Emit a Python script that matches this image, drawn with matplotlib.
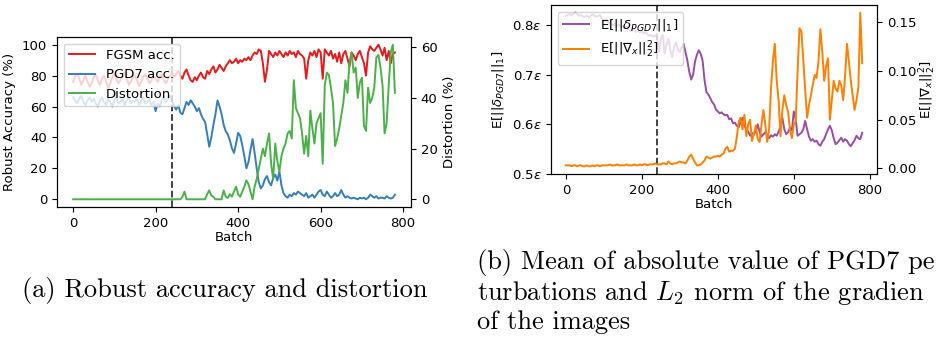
import numpy as np
import matplotlib
matplotlib.use('Agg')
import matplotlib.pyplot as plt
from matplotlib.ticker import FixedLocator, FuncFormatter

# batches sampled every 5 steps
batch = np.arange(0, 781, 5)

fgsm_acc = [
    76, 80, 81, 78, 74, 77, 80, 76, 73, 75,
    79, 81, 77, 74, 78, 80, 76, 72, 75, 79,
    81, 78, 75, 77, 80, 82, 78, 74, 76, 79,
    80, 77, 73, 76, 79, 81, 78, 75, 77, 80,
    78, 76, 79, 81, 77, 75, 78, 80, 82, 79,
    81, 83, 80, 78, 82, 84, 80, 77, 76, 79,
    77, 80, 82, 79, 78, 83, 81, 84, 86, 82,
    84, 87, 85, 83, 86, 88, 90, 88, 89, 91,
    88, 90, 89, 91, 90, 92, 90, 93, 95, 94,
    97, 96, 88, 76, 84, 96, 94, 92, 95, 93,
    96, 94, 92, 95, 93, 96, 94, 95, 92, 96,
    94, 93, 91, 78, 90, 95, 93, 96, 92, 97,
    95, 78, 97, 95, 93, 96, 91, 94, 89, 95,
    88, 94, 96, 91, 86, 95, 93, 90, 94, 96,
    92, 88, 80, 95, 99, 97, 96, 98, 100, 97,
    93, 98, 90, 96, 88, 94,
    95,
]

pgd7_acc = [
    66, 64, 62, 65, 67, 63, 61, 64, 66, 63,
    65, 62, 60, 64, 66, 63, 61, 65, 63, 60,
    64, 66, 62, 63, 65, 61, 64, 66, 62, 64,
    63, 65, 61, 64, 66, 62, 63, 65, 61, 63,
    57, 62, 60, 64, 66, 63, 65, 67, 64, 60,
    58, 61, 56, 55, 59, 63, 61, 64, 62, 60,
    57, 59, 55, 52, 50, 42, 34, 40, 48, 55,
    64, 60, 55, 48, 44, 42, 38, 33, 30, 36,
    43, 41, 35, 28, 20, 24, 32, 39, 30, 20,
    11, 7, 9, 13, 15, 11, 9, 14, 16, 12,
    18, 9, 4, 2, 1, 3, 2, 4, 3, 5,
    4, 3, 2, 4, 1, 2, 3, 1, 3, 5,
    6, 3, 2, 5, 3, 1, 2, 4, 2, 3,
    6, 3, 1, 2, 1, 0.5, 1, 0.5, 0, 1,
    0.5, 1, 0, 1, 3, 2, 1, 2, 0.5, 1,
    1, 0.5, 2, 1, 0.5, 1,
    3,
]

distortion = [0] * 50 + [
    0, 0, 0, 1, 3, 0, 0, 0, 0, 0,
    0, 0, 0, 0, 0, 2, 3.5, 1.5, 1, 0,
    0, 0, 0, 3.5, 1, 0.5, 2, 1, 3, 5,
    2, 1, 3, 5, 7.5, 6, 3, 0, 5, 8,
    12, 16, 20, 17, 22, 26, 14, 8, 22, 15,
    11, 17, 20, 22, 26, 27, 24, 47, 36, 34,
    32, 26, 18, 25, 17, 35, 28, 22, 30, 32,
    34, 14, 45, 50, 49, 44, 38, 21, 24, 28,
    33, 38, 47, 42, 54, 58, 50, 52, 40, 46,
    48, 29, 27, 44, 38, 40, 44, 56, 57, 52,
    45, 26, 30, 45, 58, 61,
    42,
]

delta_l1 = [
    .818, .820, .822, .819, .823, .825, .822, .818, .820, .817,
    .816, .819, .815, .818, .821, .819, .816, .818, .820, .812,
    .809, .812, .806, .803, .801, .799, .802, .798, .800, .796,
    .798, .794, .796, .791, .789, .788, .790, .786, .789, .785,
    .787, .783, .786, .781, .778, .780, .776, .779, .775, .746,
    .772, .780, .742, .760, .772, .750, .735, .755, .765, .750,
    .745, .755, .762, .745, .728, .705, .690, .700, .726, .740,
    .749, .742, .728, .690, .665, .660, .653, .645, .640, .630,
    .626, .622, .624, .620, .618, .619, .610, .612, .602, .603,
    .597, .594, .605, .613, .598, .590, .585, .577, .582, .580,
    .586, .600, .585, .575, .580, .584, .578, .572, .578, .575,
    .580, .577, .585, .596, .613, .590, .580, .584, .593, .588,
    .626, .610, .577, .580, .583, .590, .607, .590, .575, .567,
    .570, .565, .567, .560, .557, .565, .570, .580, .590, .597,
    .588, .572, .560, .563, .568, .573, .565, .570, .567, .560,
    .556, .562, .568, .577, .572, .570,
    .583,
]

grad_l2 = [
    .003, .003, .003, .002, .003, .003, .002, .003, .003, .002,
    .002, .003, .002, .002, .003, .002, .003, .003, .002, .003,
    .003, .003, .003, .004, .003, .003, .003, .004, .003, .003,
    .003, .003, .004, .003, .003, .003, .004, .003, .003, .004,
    .003, .004, .004, .003, .004, .004, .004, .005, .004, .004,
    .004, .005, .005, .004, .007, .005, .004, .005, .005, .006,
    .007, .006, .006, .005, .008, .012, .014, .010, .006, .003,
    .003, .004, .006, .008, .012, .011, .010, .011, .012, .012,
    .013, .012, .014, .015, .020, .022, .017, .018, .018, .020,
    .032, .048, .052, .040, .055, .033, .045, .050, .028, .035,
    .044, .030, .027, .045, .060, .045, .027, .040, .082, .110,
    .128, .090, .070, .033, .060, .075, .065, .058, .040, .031,
    .045, .048, .100, .144, .141, .112, .080, .052, .065, .075,
    .086, .096, .093, .110, .143, .120, .090, .105, .113, .050,
    .070, .090, .082, .079, .090, .085, .070, .095, .128, .110,
    .090, .075, .060, .070, .083, .160,
    .108,
]

switch_batch = 240

# caption text as far as it is visible in the figure
caption_a = '(a) Robust accuracy and distortion'
caption_b = ['(b) Mean of absolute value of PGD7 pe',
             r'turbations and $L_2$ norm of the gradien',
             'of the images']

plt.rcParams['font.size'] = 9.5
lw = 1.4
red, blue, green = '#e41a1c', '#377eb8', '#4daf4a'
purple, orange = '#984ea3', '#ff7f00'

fig = plt.figure(figsize=(9.36, 3.37), dpi=100)

# (a) accuracy and distortion
ax1 = fig.add_axes([57 / 936, 1 - 207 / 337, 354 / 936, 170 / 337])
l1, = ax1.plot(batch, fgsm_acc, color=red, lw=lw, label='FGSM acc.')
l2, = ax1.plot(batch, pgd7_acc, color=blue, lw=lw, label='PGD7 acc.')
ax1.axvline(switch_batch, color='k', ls='--', lw=1.3, alpha=0.8)
ax1.set_ylabel('Robust Accuracy (%)')
ax1.set_xlabel('Batch', labelpad=1)
ax1.set_xticks([0, 200, 400, 600, 800])
ax1b = ax1.twinx()
l3, = ax1b.plot(batch, distortion, color=green, lw=lw, label='Distortion')
ax1b.set_ylabel('Distortion (%)')
ax1b.set_yticks([0, 20, 40, 60])
ax1b.legend(handles=[l1, l2, l3], loc='upper left')

# (b) perturbation size and gradient norm
ax2 = fig.add_axes([551 / 936, 1 - 174 / 337, 326 / 936, 169 / 337])
p1, = ax2.plot(batch, delta_l1, color=purple, lw=lw,
               label=r'E[||$\delta_{PGD7}$||$_1$]')
ax2.axvline(switch_batch, color='k', ls='--', lw=1.3, alpha=0.8)
ax2.set_ylim(0.5, 0.84)
ax2.yaxis.set_major_locator(FixedLocator([0.5, 0.6, 0.7, 0.8]))
ax2.yaxis.set_major_formatter(FuncFormatter(lambda v, _: rf'${v:.1f}\varepsilon$'))
ax2.set_ylabel(r'E[||$\delta_{PGD7}$||$_1$]')
ax2.set_xlabel('Batch', labelpad=1)
ax2.set_xticks([0, 200, 400, 600, 800])
ax2b = ax2.twinx()
p2, = ax2b.plot(batch, grad_l2, color=orange, lw=lw,
                label=r'E[||$\nabla_x$||$_2^2$]')
ax2b.set_ylabel(r'E[||$\nabla_x$||$_2^2$]', labelpad=1)
ax2b.set_yticks([0.0, 0.05, 0.10, 0.15])
ax2b.legend(handles=[p1, p2], loc='upper left')

# captions
cap = dict(family='cmr10', fontsize=19.0, math_fontfamily='cm', va='center')
fig.text(22 / 936, 1 - 291 / 337, caption_a, **cap)
for line, y in zip(caption_b, [263, 293, 322]):
    fig.text(477 / 936, 1 - y / 337, line, **cap)

fig.savefig('out.png', dpi=100)
